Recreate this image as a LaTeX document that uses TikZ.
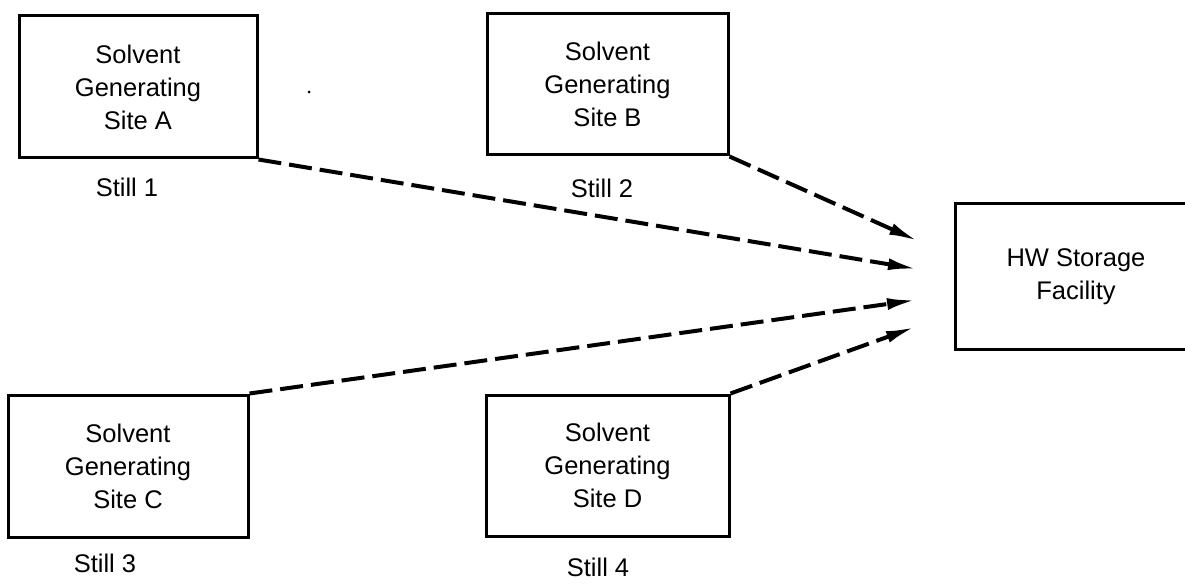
\documentclass[tikz,border=0pt]{standalone}
\usepackage{fontspec}
\setmainfont{Liberation Sans}
\usetikzlibrary{arrows.meta}
\begin{document}
\begin{tikzpicture}[x=1pt,y=-1pt,
  sitebox/.style={draw, line width=3pt, minimum width=#1, inner sep=0pt,
    align=center, font=\fontsize{25.5}{33}\selectfont},
  sitebox/.default=241pt,
  stilllabel/.style={font=\fontsize{25.5}{30}\selectfont, inner sep=0pt},
  flow/.style={line width=4pt, dash pattern=on 23pt off 8pt,
    -{Latex[length=29pt,width=12pt]}}
]
\useasboundingbox (0,0) rectangle (1185,585);
\clip (0,0) rectangle (1185,585);

% generating sites
\node[sitebox=238pt, minimum height=142pt] (A) at (138,87)
  {Solvent\\Generating\\Site A};
\node[sitebox=241pt, minimum height=141pt] (B) at (607.5,84.5)
  {Solvent\\Generating\\Site B};
\node[sitebox=240pt, minimum height=142pt] (C) at (128,466)
  {Solvent\\Generating\\Site C};
\node[sitebox=243pt, minimum height=141pt] (D) at (607.5,465.5)
  {Solvent\\Generating\\Site D};

% storage facility (runs off the right edge)
\node[sitebox=242pt, minimum height=145pt] (HW) at (1076,276.5)
  {HW Storage\\Facility};

% still labels
\node[stilllabel] (s1) at (127,187) {Still 1};
\node[stilllabel] (s2) at (602,188) {Still 2};
\node[stilllabel] (s3) at (105,563) {Still 3};
\node[stilllabel] (s4) at (598,567) {Still 4};

% arrow tips in front of the facility
\coordinate (t1) at (918,241);
\coordinate (t2) at (917,269);
\coordinate (t3) at (916,300);
\coordinate (t4) at (915,327);

\draw[flow] (B.south east) -- (t1);
\draw[flow] (A.south east) -- (t2);
\draw[flow] (C.north east) -- (t3);
\draw[flow] (D.north east) -- (t4);

% small speck
\fill (309,92) circle (1.5pt);
\end{tikzpicture}
\end{document}
